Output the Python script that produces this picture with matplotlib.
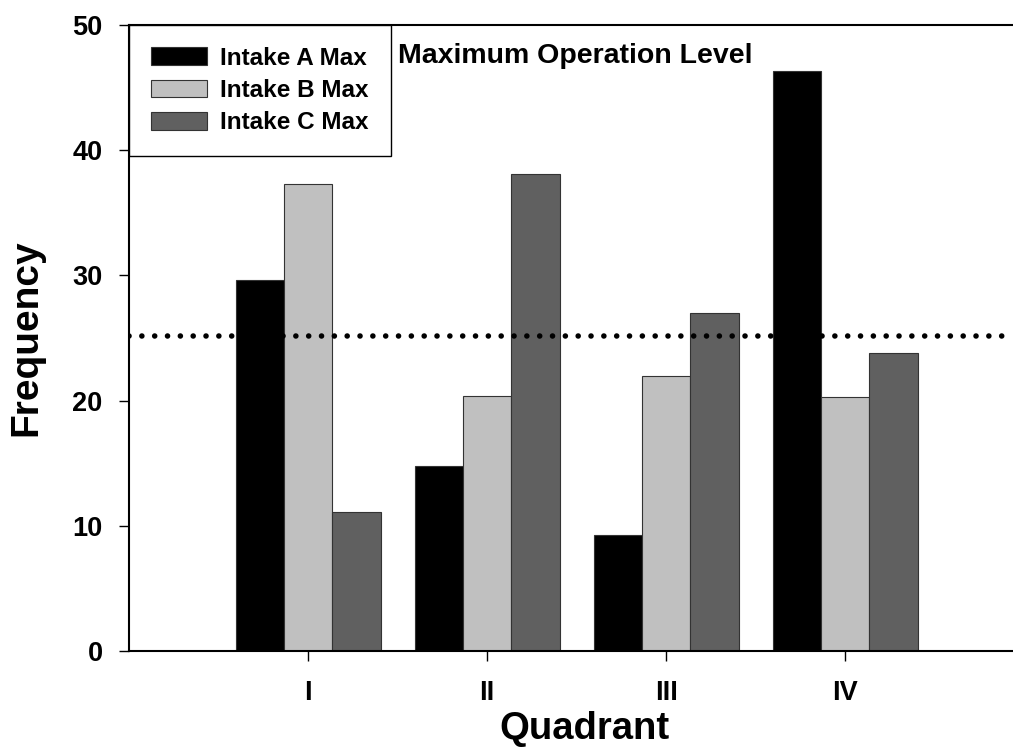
import matplotlib
matplotlib.use("Agg")
import matplotlib.pyplot as plt
import numpy as np

plt.rcParams['font.family'] = ['Liberation Sans', 'DejaVu Sans']
plt.rcParams['font.weight'] = 'bold'

# dados
quadrants = ['I', 'II', 'III', 'IV']
intake_a = [29.6, 14.8, 9.3, 46.3]
intake_b = [37.3, 20.4, 22.0, 20.3]
intake_c = [11.1, 38.1, 27.0, 23.8]
series_names = ['Intake A Max', 'Intake B Max', 'Intake C Max']
series_colors = ['#000000', '#c0c0c0', '#606060']
ref_level = 25.2

fig = plt.figure(figsize=(10.13, 7.48), dpi=100)
ax = fig.add_axes([129 / 1013, 1 - 651.3 / 748, 1 - 129 / 1013, (651.3 - 24.8) / 748])

x = np.arange(1, len(quadrants) + 1)
w = 0.27
for i, (vals, name, col) in enumerate(zip([intake_a, intake_b, intake_c], series_names, series_colors)):
    ax.bar(x + (i - 1) * w, vals, width=w, color=col, edgecolor='#333333',
           linewidth=0.8, label=name, zorder=2)

ax.axhline(ref_level, color='black', linewidth=4.0, linestyle=(0, (0.01, 2.3)),
           dash_capstyle='round', zorder=3)

ax.set_xlim(0, (1013 - 128.3) / 179.2)
ax.set_ylim(0, 50)
ax.set_xticks(x)
ax.set_xticklabels(quadrants)
ax.set_yticks([0, 10, 20, 30, 40, 50])

for s in ['left', 'bottom', 'top']:
    ax.spines[s].set_linewidth(1.5)
ax.spines['right'].set_visible(False)
ax.tick_params(direction='out', length=7, width=1, labelsize=19.5)
ax.tick_params(axis='y', pad=12)
ax.tick_params(axis='x', pad=14)

ax.set_xlabel('Quadrant', fontsize=27.5, fontweight='bold', va='center')
ax.xaxis.set_label_coords((584.5 - 129) / 884, (651.3 - 729) / 626.5)
ax.set_ylabel('Frequency', fontsize=28, fontweight='bold', va='center')
ax.yaxis.set_label_coords((26 - 129) / 884, 0.5)

fig.text(398 / 1013, 1 - 63 / 748, 'Maximum Operation Level', fontsize=20.5,
         fontweight='bold', va='baseline', ha='left')

leg = ax.legend(loc='upper left', bbox_to_anchor=(0, 1), borderaxespad=0,
                fancybox=False, edgecolor='black', framealpha=1, fontsize=17.5,
                handlelength=2.3, handleheight=0.75, handletextpad=0.55,
                labelspacing=0.38, borderpad=0.9)
leg.get_frame().set_linewidth(1.0)

fig.savefig('out.png', dpi=100)
